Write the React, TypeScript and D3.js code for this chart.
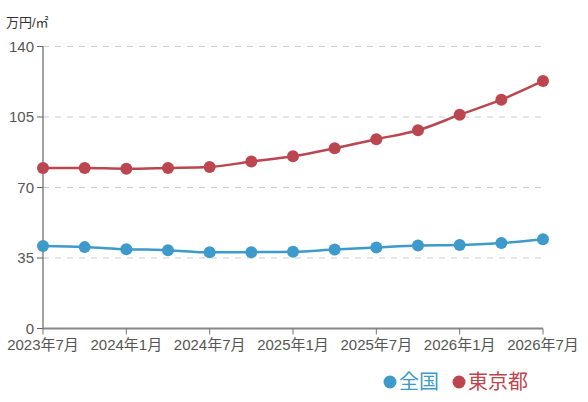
import React from "react";
import * as d3 from "d3";

const periods = [
  "2023-07", "2023-10", "2024-01", "2024-04", "2024-07", "2024-10", "2025-01",
  "2025-04", "2025-07", "2025-10", "2026-01", "2026-04", "2026-07",
];
const tickLabels = ["2023年7月", "2024年1月", "2024年7月", "2025年1月", "2025年7月", "2026年1月", "2026年7月"];
const national = [40.9, 40.4, 39.4, 38.9, 37.8, 37.9, 38.1, 39.2, 40.2, 41.2, 41.4, 42.4, 44.3];
const tokyo = [79.7, 79.7, 79.3, 79.7, 80.2, 82.9, 85.5, 89.5, 94.0, 98.4, 106.1, 113.6, 122.9];
const yTicks = [0, 35, 70, 105, 140];
const seriesNames = ["全国", "東京都"];
const colors = ["#3d9acb", "#bb4650"];

const W = 588, H = 402;
const M = { left: 43, right: 45, top: 46.5, bottom: 73.5 };

export default function App() {
  const x = d3.scalePoint<string>().domain(periods).range([M.left, W - M.right]);
  const y = d3.scaleLinear().domain([0, 140]).range([H - M.bottom, M.top]);
  const line = d3
    .line<number>()
    .x((_, i) => x(periods[i]) as number)
    .y((d) => y(d))
    .curve(d3.curveMonotoneX);
  const data = [national, tokyo];
  const font = "'Liberation Sans', Arial, 'Noto Sans CJK JP', sans-serif";
  const x0 = M.left, x1 = W - M.right, yb = y(0);
  return (
    <svg width={W} height={H} style={{ position: "absolute", left: 0, top: 0, fontFamily: font }}>
      <text x={6} y={27} fontSize={13} fill="#333">万円/㎡</text>
      {yTicks.map((t) => (
        <g key={t}>
          {t > 0 && (
            <line x1={x0} x2={x1} y1={y(t)} y2={y(t)} stroke="#ccc" strokeDasharray="6,6" strokeWidth={1.2} />
          )}
          <line x1={x0 - 6} x2={x0} y1={y(t)} y2={y(t)} stroke="#666" strokeWidth={1} />
          <text x={x0 - 9} y={y(t)} dy="0.35em" textAnchor="end" fontSize={15} fill="#555">{t}</text>
        </g>
      ))}
      <line x1={x0} x2={x0} y1={y(140)} y2={yb} stroke="#666" strokeWidth={1.2} />
      <line x1={x0} x2={x1} y1={yb} y2={yb} stroke="#888" strokeWidth={2} />
      {tickLabels.map((lab, i) => {
        const px = x(periods[i * 2]) as number;
        return (
          <g key={lab}>
            <line x1={px} x2={px} y1={yb} y2={yb + 6} stroke="#777" strokeWidth={1} />
            <text x={px} y={yb + 21} textAnchor="middle" fontSize={15} fill="#555">{lab}</text>
          </g>
        );
      })}
      {data.map((s, si) => (
        <g key={si}>
          <path d={line(s) || ""} fill="none" stroke={colors[si]} strokeWidth={2.5} />
          {s.map((v, i) => (
            <circle key={i} cx={x(periods[i]) as number} cy={y(v)} r={6} fill={colors[si]} />
          ))}
        </g>
      ))}
      <g fontSize={20}>
        <circle cx={390} cy={382} r={6.5} fill={colors[0]} />
        <text x={399} y={389} fill={colors[0]}>{seriesNames[0]}</text>
        <circle cx={459} cy={382} r={6.5} fill={colors[1]} />
        <text x={468} y={389} fill={colors[1]}>{seriesNames[1]}</text>
      </g>
    </svg>
  );
}
